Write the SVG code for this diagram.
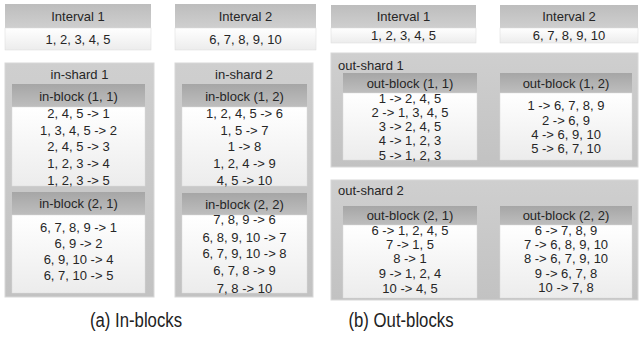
<svg xmlns="http://www.w3.org/2000/svg" width="640" height="338" viewBox="0 0 640 338">
<defs>
<linearGradient id="hd" x1="0" y1="0" x2="0" y2="1"><stop offset="0" stop-color="#a6a6a6"/><stop offset="1" stop-color="#bebebe"/></linearGradient>
<linearGradient id="ih" x1="0" y1="0" x2="0" y2="1"><stop offset="0" stop-color="#bdbdbd"/><stop offset="1" stop-color="#cfcfcf"/></linearGradient>
<linearGradient id="bd" x1="0" y1="0" x2="0" y2="1"><stop offset="0" stop-color="#ffffff"/><stop offset="1" stop-color="#ececec"/></linearGradient>
<linearGradient id="sh" x1="0" y1="0" x2="0" y2="1"><stop offset="0" stop-color="#cfcfcf"/><stop offset="1" stop-color="#c2c2c2"/></linearGradient>
</defs>
<style>
text{font-family:"Liberation Sans",Arial,sans-serif;font-size:13px;fill:#262626;text-anchor:middle;dominant-baseline:central}
.l{text-anchor:start}
.cap{font-size:20px;fill:#222}
.shard{fill:url(#sh);stroke:#d8d8d8;stroke-width:1}
.hd{fill:url(#hd)}
.ih{fill:url(#ih)}
.bd{fill:url(#bd);stroke:#dcdcdc;stroke-width:0.5}
</style>
<rect width="640" height="338" fill="#ffffff"/>

<g id="interval1-a">
<rect class="ih" x="5" y="4" width="146" height="24"/><rect class="bd" x="5" y="28" width="146" height="22"/>
<text x="78" y="16">Interval 1</text><text x="78" y="39">1, 2, 3, 4, 5</text>
</g>
<g id="interval2-a">
<rect class="ih" x="175" y="4" width="141" height="24"/><rect class="bd" x="175" y="28" width="141" height="22"/>
<text x="245.5" y="16">Interval 2</text><text x="245.5" y="39">6, 7, 8, 9, 10</text>
</g>

<g id="in-shard1">
<rect class="shard" x="5" y="63" width="149" height="234"/>
<text x="79.5" y="74">in-shard 1</text>
</g>
<g id="in-block11">
<rect class="hd" x="12" y="84" width="133" height="23"/><rect class="bd" x="12" y="107" width="133" height="79"/>
<text x="78.5" y="96">in-block (1, 1)</text>
<text x="78.5" y="113">2, 4, 5 -&gt; 1</text><text x="78.5" y="130">1, 3, 4, 5 -&gt; 2</text><text x="78.5" y="146">2, 4, 5 -&gt; 3</text><text x="78.5" y="163">1, 2, 3 -&gt; 4</text><text x="78.5" y="180">1, 2, 3 -&gt; 5</text>
</g>
<g id="in-block21">
<rect class="hd" x="12" y="192" width="133" height="23"/><rect class="bd" x="12" y="215" width="133" height="78"/>
<text x="78.5" y="203">in-block (2, 1)</text>
<text x="78.5" y="227">6, 7, 8, 9 -&gt; 1</text><text x="78.5" y="243">6, 9 -&gt; 2</text><text x="78.5" y="259">6, 9, 10 -&gt; 4</text><text x="78.5" y="275">6, 7, 10 -&gt; 5</text>
</g>

<g id="in-shard2">
<rect class="shard" x="175" y="63" width="138" height="234"/>
<text x="244" y="74">in-shard 2</text>
</g>
<g id="in-block12">
<rect class="hd" x="182" y="84" width="125" height="23"/><rect class="bd" x="182" y="107" width="125" height="79"/>
<text x="244.5" y="96">in-block (1, 2)</text>
<text x="244.5" y="113">1, 2, 4, 5 -&gt; 6</text><text x="244.5" y="130">1, 5 -&gt; 7</text><text x="244.5" y="146">1 -&gt; 8</text><text x="244.5" y="163">1, 2, 4 -&gt; 9</text><text x="244.5" y="180">4, 5 -&gt; 10</text>
</g>
<g id="in-block22">
<rect class="hd" x="182" y="193" width="125" height="22"/><rect class="bd" x="182" y="215" width="125" height="78"/>
<text x="244.5" y="204">in-block (2, 2)</text>
<text x="244.5" y="219.5">7, 8, 9 -&gt; 6</text><text x="244.5" y="237">6, 8, 9, 10 -&gt; 7</text><text x="244.5" y="253">6, 7, 9, 10 -&gt; 8</text><text x="244.5" y="270">6, 7, 8 -&gt; 9</text><text x="244.5" y="288">7, 8 -&gt; 10</text>
</g>

<g id="interval1-b">
<rect class="ih" x="331" y="5" width="145" height="23"/><rect class="bd" x="331" y="28" width="145" height="15"/>
<text x="403.5" y="16">Interval 1</text><text x="403.5" y="35">1, 2, 3, 4, 5</text>
</g>
<g id="interval2-b">
<rect class="ih" x="500" y="5" width="138" height="23"/><rect class="bd" x="500" y="28" width="138" height="15"/>
<text x="569" y="16">Interval 2</text><text x="569" y="35">6, 7, 8, 9, 10</text>
</g>

<g id="out-shard1">
<rect class="shard" x="331" y="53" width="307" height="114"/>
<text class="l" x="338" y="65">out-shard 1</text>
</g>
<g id="out-block11">
<rect class="hd" x="343" y="73" width="134" height="20"/><rect class="bd" x="343" y="93" width="134" height="67"/>
<text x="410" y="83">out-block (1, 1)</text>
<text x="410" y="98">1 -&gt; 2, 4, 5</text><text x="410" y="112">2 -&gt; 1, 3, 4, 5</text><text x="410" y="126">3 -&gt; 2, 4, 5</text><text x="410" y="140">4 -&gt; 1, 2, 3</text><text x="410" y="155">5 -&gt; 1, 2, 3</text>
</g>
<g id="out-block12">
<rect class="hd" x="500" y="73" width="132" height="20"/><rect class="bd" x="500" y="93" width="132" height="67"/>
<text x="566" y="83">out-block (1, 2)</text>
<text x="566" y="105">1 -&gt; 6, 7, 8, 9</text><text x="566" y="120">2 -&gt; 6, 9</text><text x="566" y="134">4 -&gt; 6, 9, 10</text><text x="566" y="148">5 -&gt; 6, 7, 10</text>
</g>

<g id="out-shard2">
<rect class="shard" x="331" y="180" width="307" height="120"/>
<text class="l" x="338" y="190">out-shard 2</text>
</g>
<g id="out-block21">
<rect class="hd" x="343" y="206" width="134" height="19"/><rect class="bd" x="343" y="225" width="134" height="73"/>
<text x="410" y="215">out-block (2, 1)</text>
<text x="410" y="230">6 -&gt; 1, 2, 4, 5</text><text x="410" y="244.5">7 -&gt; 1, 5</text><text x="410" y="258.5">8 -&gt; 1</text><text x="410" y="273">9 -&gt; 1, 2, 4</text><text x="410" y="288">10 -&gt; 4, 5</text>
</g>
<g id="out-block22">
<rect class="hd" x="500" y="206" width="132" height="19"/><rect class="bd" x="500" y="225" width="132" height="73"/>
<text x="566" y="215">out-block (2, 2)</text>
<text x="566" y="230">6 -&gt; 7, 8, 9</text><text x="566" y="244">7 -&gt; 6, 8, 9, 10</text><text x="566" y="258">8 -&gt; 6, 7, 9, 10</text><text x="566" y="273">9 -&gt; 6, 7, 8</text><text x="566" y="287.5">10 -&gt; 7, 8</text>
</g>

<g id="connectors"></g>

<text class="cap" x="136" y="320" textLength="92" lengthAdjust="spacingAndGlyphs">(a) In-blocks</text>
<text class="cap" x="401" y="320" textLength="105" lengthAdjust="spacingAndGlyphs">(b) Out-blocks</text>
</svg>
